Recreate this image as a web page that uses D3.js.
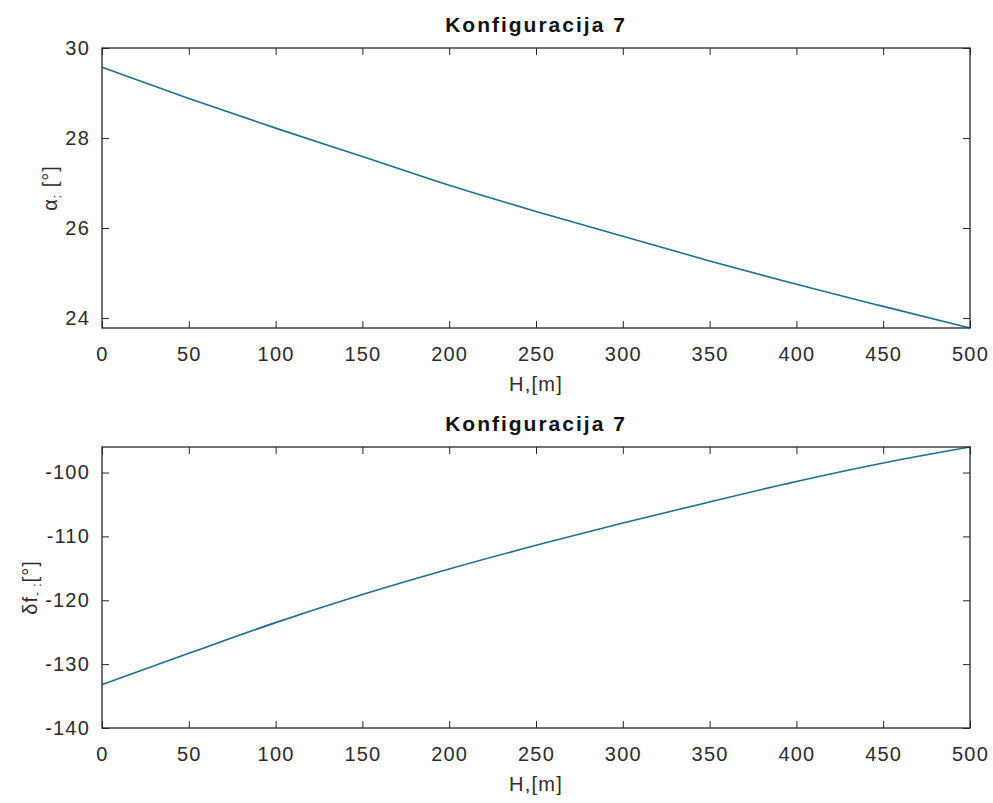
<!DOCTYPE html>
<html>
<head>
<meta charset="utf-8">
<script src="https://cdn.jsdelivr.net/npm/d3@7"></script>
<style>
  body { margin: 0; background: #fff; }
  svg { display: block; font-family: "Liberation Sans", Arial, sans-serif; }
  .tick text { fill: #2b2b2b; font-size: 20px; letter-spacing: 1.2px; }
  .tick line { stroke: #262626; }
  .domain { display: none; }
</style>
</head>
<body>
<div id="chart"></div>
<script>
// H values (m) and the two series
const heights = [0, 50, 100, 150, 200, 250, 300, 350, 400, 450, 500];
const alphaValues = [29.57, 28.88, 28.22, 27.59, 26.95, 26.37, 25.82, 25.27, 24.75, 24.26, 23.78];
const deltaFValues = [-133.2, -128.3, -123.5, -119.1, -115.1, -111.4, -107.9, -104.6, -101.4, -98.5, -96.0];
const xTicks = [0, 50, 100, 150, 200, 250, 300, 350, 400, 450, 500];
const alphaTicks = [24, 26, 28, 30];
const deltaFTicks = [-140, -130, -120, -110, -100];

const width = 993, height = 803;
const left = 102, right = 970;

const svg = d3.select("#chart").append("svg")
    .attr("width", width)
    .attr("height", height);

const xScale = d3.scaleLinear()
    .domain([0, 500])
    .range([left, right]);

// plain hyphen minus, like MATLAB prints it
const plain = d => String(d);

const drawPanel = (cfg) => {
    const yScale = d3.scaleLinear()
        .domain(cfg.domain)
        .range([cfg.bottom, cfg.top]);

    const g = svg.append("g");

    const lineGenerator = d3.line()
        .x((d, i) => xScale(heights[i]))
        .y(d => yScale(d))
        .curve(d3.curveMonotoneX);

    g.append("path")
        .datum(cfg.values)
        .attr("d", lineGenerator)
        .attr("fill", "none")
        .attr("stroke", "#1d6f90")
        .attr("stroke-width", 1.6);

    // ticks on all four sides, pointing in
    g.append("g").attr("transform", `translate(0, ${cfg.bottom})`)
        .call(d3.axisBottom(xScale).tickValues(xTicks).tickFormat(plain)
            .tickSizeInner(-7).tickSizeOuter(0).tickPadding(19));
    g.append("g").attr("transform", `translate(0, ${cfg.top})`)
        .call(d3.axisTop(xScale).tickValues(xTicks)
            .tickSizeInner(-7).tickSizeOuter(0).tickFormat(""));
    g.append("g").attr("transform", `translate(${left}, 0)`)
        .call(d3.axisLeft(yScale).tickValues(cfg.ticks).tickFormat(plain)
            .tickSizeInner(-7).tickSizeOuter(0).tickPadding(12));
    g.append("g").attr("transform", `translate(${right}, 0)`)
        .call(d3.axisRight(yScale).tickValues(cfg.ticks)
            .tickSizeInner(-7).tickSizeOuter(0).tickFormat(""));

    g.append("rect")
        .attr("x", left)
        .attr("y", cfg.top)
        .attr("width", right - left)
        .attr("height", cfg.bottom - cfg.top)
        .attr("fill", "none")
        .attr("stroke", "#262626")
        .attr("stroke-width", 1.3);

    g.append("text")
        .attr("x", (left + right) / 2)
        .attr("y", cfg.top - 16)
        .attr("text-anchor", "middle")
        .attr("font-size", 21)
        .attr("font-weight", "bold")
        .attr("letter-spacing", 2)
        .attr("fill", "#111")
        .text("Konfiguracija 7");

    g.append("text")
        .attr("x", (left + right) / 2)
        .attr("y", cfg.bottom + 63)
        .attr("text-anchor", "middle")
        .attr("font-size", 20)
        .attr("letter-spacing", 1.2)
        .attr("fill", "#2b2b2b")
        .text("H,[m]");

    const yLabel = g.append("text")
        .attr("transform", `translate(${cfg.labelX}, ${(cfg.top + cfg.bottom) / 2}) rotate(-90)`)
        .attr("text-anchor", "middle")
        .attr("font-size", 20)
        .attr("letter-spacing", 1)
        .attr("fill", "#2b2b2b");
    yLabel.append("tspan").text(cfg.label[0]);
    yLabel.append("tspan").attr("font-size", 12).attr("dy", 4).text(cfg.label[1]);
    yLabel.append("tspan").attr("dy", -4).text(cfg.label[2]);
};

drawPanel({
    top: 48, bottom: 328,
    domain: [23.78, 30],
    ticks: alphaTicks,
    values: alphaValues,
    labelX: 57,
    label: ["α", ":", " [°]"]
});

drawPanel({
    top: 447, bottom: 728,
    domain: [-140, -96.0],
    ticks: deltaFTicks,
    values: deltaFValues,
    labelX: 37,
    label: ["δf", "- :", "[°]"]
});
</script>
</body>
</html>
